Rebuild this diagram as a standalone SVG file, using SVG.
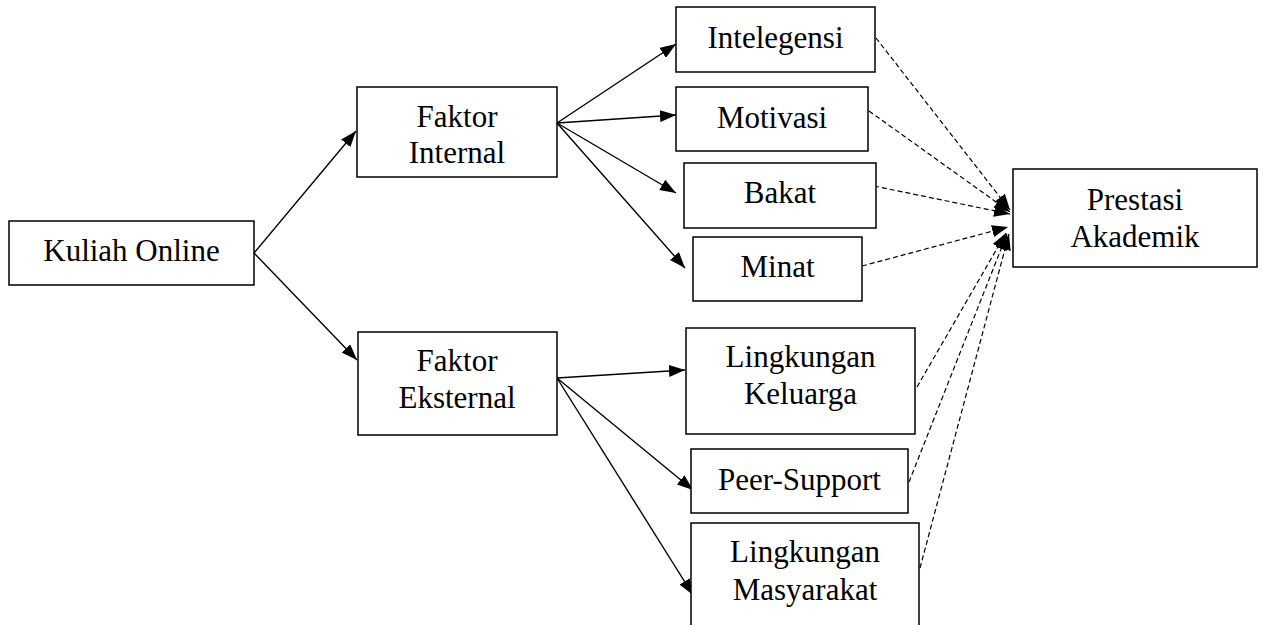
<svg xmlns="http://www.w3.org/2000/svg" width="1263" height="625" viewBox="0 0 1263 625">
<defs>
<marker id="ah" viewBox="0 0 16 12" refX="16" refY="6" markerWidth="16" markerHeight="12" markerUnits="userSpaceOnUse" orient="auto">
<path d="M0,0 L16,6 L0,12 z" fill="#000"/>
</marker>
<style>
.box{fill:#fff;stroke:#000;stroke-width:1.5}
.t{font-family:"Liberation Serif","Times New Roman",serif;font-size:31px;fill:#000;text-anchor:middle}
.c{stroke:#000;stroke-width:1.4;fill:none;marker-end:url(#ah)}
.d{stroke:#000;stroke-width:1.2;fill:none;stroke-dasharray:5 3;marker-end:url(#ah)}
</style>
</defs>
<rect width="1263" height="625" fill="#fff"/>
<g id="connectors">
<line class="c" x1="254" y1="253" x2="356" y2="131"/>
<line class="c" x1="254" y1="253" x2="357" y2="360"/>
<line class="c" x1="557" y1="123" x2="676" y2="44"/>
<line class="c" x1="557" y1="123" x2="676" y2="115"/>
<line class="c" x1="557" y1="123" x2="676" y2="193"/>
<line class="c" x1="557" y1="123" x2="685" y2="268"/>
<line class="c" x1="557" y1="378" x2="685" y2="370"/>
<line class="c" x1="557" y1="378" x2="693" y2="490"/>
<line class="c" x1="557" y1="378" x2="693" y2="595"/>
<line class="d" x1="876" y1="38" x2="1010" y2="210"/>
<line class="d" x1="869" y1="111" x2="1010" y2="212"/>
<line class="d" x1="874" y1="186" x2="1010" y2="214"/>
<line class="d" x1="862" y1="266" x2="1008" y2="227"/>
<line class="d" x1="917" y1="387" x2="1006" y2="233"/>
<line class="d" x1="909" y1="482" x2="1007" y2="234"/>
<line class="d" x1="920" y1="568" x2="1009" y2="234"/>
</g>
<g id="kuliah-online">
<rect class="box" x="9" y="221" width="245" height="64"/>
<text class="t" x="131.5" y="261">Kuliah Online</text>
</g>
<g id="faktor-internal">
<rect class="box" x="357" y="87" width="200" height="90"/>
<text class="t" x="457" y="127">Faktor</text>
<text class="t" x="457" y="163">Internal</text>
</g>
<g id="faktor-eksternal">
<rect class="box" x="358" y="332" width="199" height="103"/>
<text class="t" x="457" y="371">Faktor</text>
<text class="t" x="457" y="408">Eksternal</text>
</g>
<g id="intelegensi">
<rect class="box" x="676" y="7" width="199" height="65"/>
<text class="t" x="775.5" y="48">Intelegensi</text>
</g>
<g id="motivasi">
<rect class="box" x="676" y="87" width="192" height="64"/>
<text class="t" x="772" y="128">Motivasi</text>
</g>
<g id="bakat">
<rect class="box" x="684" y="163" width="192" height="65"/>
<text class="t" x="780" y="203">Bakat</text>
</g>
<g id="minat">
<rect class="box" x="693" y="237" width="169" height="64"/>
<text class="t" x="777.5" y="277">Minat</text>
</g>
<g id="lingkungan-keluarga">
<rect class="box" x="686" y="328" width="229" height="106"/>
<text class="t" x="800.5" y="367">Lingkungan</text>
<text class="t" x="800.5" y="404">Keluarga</text>
</g>
<g id="peer-support">
<rect class="box" x="691" y="449" width="217" height="64"/>
<text class="t" x="799.5" y="490">Peer-Support</text>
</g>
<g id="lingkungan-masyarakat">
<rect class="box" x="691" y="523" width="228" height="120"/>
<text class="t" x="805" y="562">Lingkungan</text>
<text class="t" x="805" y="600">Masyarakat</text>
</g>
<g id="prestasi-akademik">
<rect class="box" x="1013" y="169" width="244" height="98"/>
<text class="t" x="1135" y="210">Prestasi</text>
<text class="t" x="1135" y="247">Akademik</text>
</g>
</svg>
